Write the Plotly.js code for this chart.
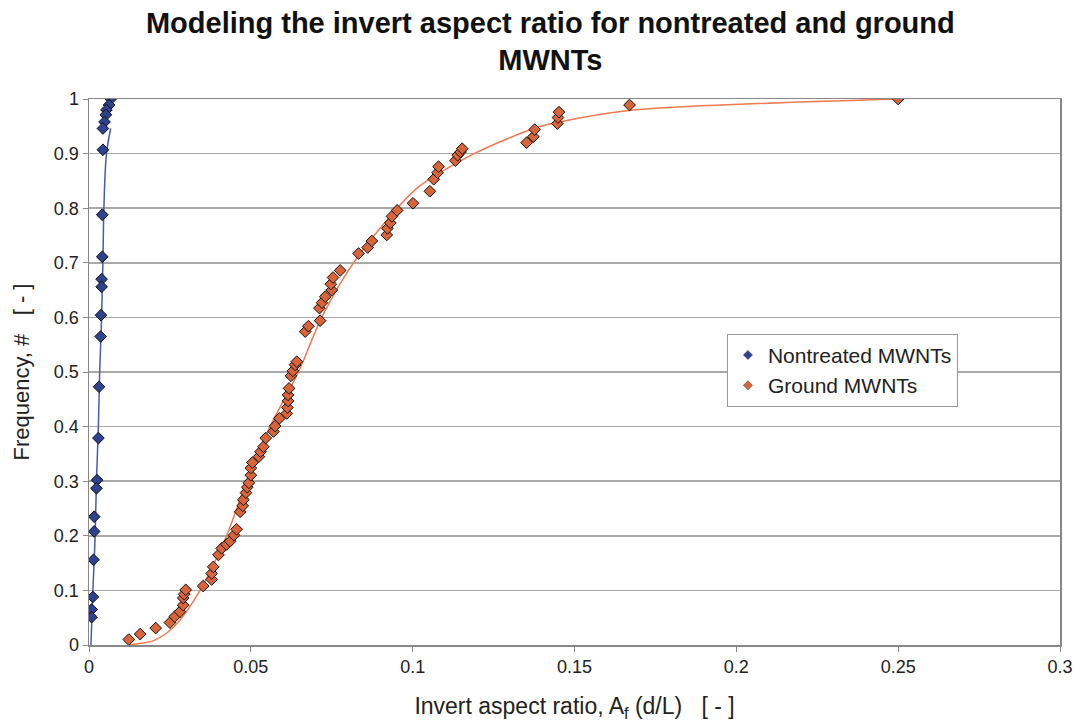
<!DOCTYPE html>
<html>
<head>
<meta charset="utf-8">
<script src="https://cdn.plot.ly/plotly-3.0.1.min.js"></script>
<style>html,body{margin:0;padding:0;background:#fff;}#chart{width:1077px;height:724px;}</style>
</head>
<body>
<div id="chart"></div>
<script>
// Nontreated MWNTs measured points
const nontreatedX = [0.0067,0.0062,0.0054,0.0052,0.0048,0.0043,0.0043,0.0041,0.0041,0.0039,0.0039,0.0037,0.0036,0.0031,0.0029,0.0025,0.0023,0.0016,0.0016,0.0014,0.0012,0.0008,0.0008];
const nontreatedY = [1.0,0.989,0.980,0.971,0.958,0.946,0.907,0.788,0.711,0.670,0.656,0.604,0.565,0.473,0.379,0.302,0.287,0.235,0.208,0.156,0.088,0.065,0.051];
// Nontreated model curve
const nontreatedFitX = [0.0006,0.0009,0.0012,0.0019,0.0023,0.0029,0.0033,0.0039,0.0043,0.0046,0.0054,0.0067];
const nontreatedFitY = [0,0.05,0.1,0.2,0.3,0.4,0.5,0.6,0.7,0.8,0.9,0.946];

// Ground MWNTs measured points
const groundX = [0.0123,0.0158,0.0206,0.0250,0.0265,0.0281,0.0291,0.0291,0.0294,0.0299,0.0353,0.0379,0.0379,0.0384,0.0400,0.0410,0.0425,0.0436,0.0448,0.0456,0.0467,0.0475,0.0477,0.0485,0.0489,0.0494,
  0.0500,0.0500,0.0505,0.0525,0.0530,0.0539,0.0546,0.0570,0.0575,0.0588,0.0611,0.0613,0.0615,0.0615,0.0618,0.0624,0.0630,0.0637,0.0642,0.0668,0.0678,0.0714,0.0712,0.0720,
  0.0730,0.0750,0.0747,0.0754,0.0776,0.0833,0.0861,0.0874,0.0920,0.0922,0.0931,0.0936,0.0952,0.1001,0.1053,0.1065,0.1077,0.1080,0.1132,0.1139,0.1148,0.1153,0.1352,0.1373,0.1377,0.1447,0.1449,0.1452,0.1670,0.2500];
const groundY = [0.010,0.020,0.031,0.041,0.052,0.061,0.073,0.086,0.093,0.101,0.108,0.120,0.131,0.143,0.165,0.177,0.184,0.190,0.201,0.212,0.244,0.255,0.266,0.279,0.289,0.297,
  0.311,0.324,0.334,0.345,0.354,0.363,0.379,0.391,0.401,0.415,0.424,0.435,0.447,0.458,0.470,0.493,0.502,0.513,0.519,0.574,0.584,0.594,0.617,0.627,
  0.638,0.650,0.661,0.673,0.686,0.717,0.728,0.740,0.751,0.763,0.773,0.785,0.796,0.809,0.831,0.853,0.865,0.876,0.887,0.897,0.903,0.909,0.920,0.931,0.944,0.955,0.966,0.976,0.989,1.0];
// Ground model curve
const groundFitX = [0.0123,0.016,0.020,0.024,0.028,0.0343,0.0425,0.0487,0.0559,0.0647,0.0719,0.0817,0.0952,0.102,0.1190,0.1374,0.1446,0.1668,0.25];
const groundFitY = [0,0.003,0.008,0.022,0.045,0.1,0.2,0.3,0.4,0.5,0.6,0.7,0.8,0.84,0.9,0.946,0.957,0.979,1.0];

const xTicks = [0,0.05,0.1,0.15,0.2,0.25,0.3];
const xTickText = ['0','0.05','0.1','0.15','0.2','0.25','0.3'];
const yTicks = [0,0.1,0.2,0.3,0.4,0.5,0.6,0.7,0.8,0.9,1];
const yTickText = ['0','0.1','0.2','0.3','0.4','0.5','0.6','0.7','0.8','0.9','1'];

const font = 'Liberation Sans, Arial, sans-serif';
const traces = [
  {x: nontreatedFitX, y: nontreatedFitY, mode:'lines', line:{color:'#4a5da6', width:1.5, shape:'spline'}, showlegend:false, hoverinfo:'skip'},
  {x: groundFitX, y: groundFitY, mode:'lines', line:{color:'#ee7a52', width:1.5, shape:'spline', smoothing:0.8}, showlegend:false, hoverinfo:'skip'},
  {x: nontreatedX, y: nontreatedY, mode:'markers', name:'Nontreated MWNTs', showlegend:false,
   marker:{symbol:'diamond', size:9, color:'#2f4290', line:{color:'#111', width:1}}},
  {x: groundX, y: groundY, mode:'markers', name:'Ground MWNTs', showlegend:false,
   marker:{symbol:'diamond', size:9, color:'#d9643a', line:{color:'#111', width:1}}},
  {x: [null], y: [null], mode:'markers', name:'Nontreated MWNTs',
   marker:{symbol:'diamond', size:7, color:'#2f4290', line:{color:'#333', width:0.5}}},
  {x: [null], y: [null], mode:'markers', name:'Ground MWNTs',
   marker:{symbol:'diamond', size:7, color:'#d9643a', line:{color:'#333', width:0.5}}}
];

const layout = {
  width:1077, height:724,
  margin:{l:89, r:17, t:99, b:79},
  paper_bgcolor:'#fff', plot_bgcolor:'#fff',
  font:{family:font, color:'#222', size:18},
  title:{text:'<b>Modeling the invert aspect ratio for nontreated and ground<br>MWNTs</b>',
    x:0.511, xanchor:'center', yref:'container', y:0.955, yanchor:'middle', font:{family:font, size:29, color:'#111'}},
  xaxis:{range:[0,0.3], tickvals:xTicks, ticktext:xTickText, showgrid:false, zeroline:false,
    showline:true, linecolor:'#888', linewidth:1.5, mirror:true, ticks:'outside', ticklen:5, tickcolor:'#888',
    tickfont:{size:18, color:'#222'},
    title:{text:'Invert aspect ratio, A<sub>f</sub> (d/L)   [ - ]', font:{size:23, color:'#222'}, standoff:22}},
  yaxis:{range:[0,1], tickvals:yTicks, ticktext:yTickText, showgrid:true, gridcolor:'#a9a9a9', gridwidth:1.5, zeroline:false,
    showline:true, linecolor:'#888', linewidth:1.5, mirror:true, ticks:'outside', ticklen:5, tickcolor:'#888',
    tickfont:{size:18, color:'#222'},
    title:{text:'Frequency, #   [ - ]', font:{size:22, color:'#222'}, standoff:18}},
  legend:{x:0.657, y:0.57, xanchor:'left', yanchor:'top', bgcolor:'#fff', bordercolor:'#999', borderwidth:1,
    font:{size:21, color:'#222'}, itemwidth:30, tracegroupgap:0},
  showlegend:true
};

Plotly.newPlot('chart', traces, layout, {displayModeBar:false, staticPlot:true});
</script>
</body>
</html>
